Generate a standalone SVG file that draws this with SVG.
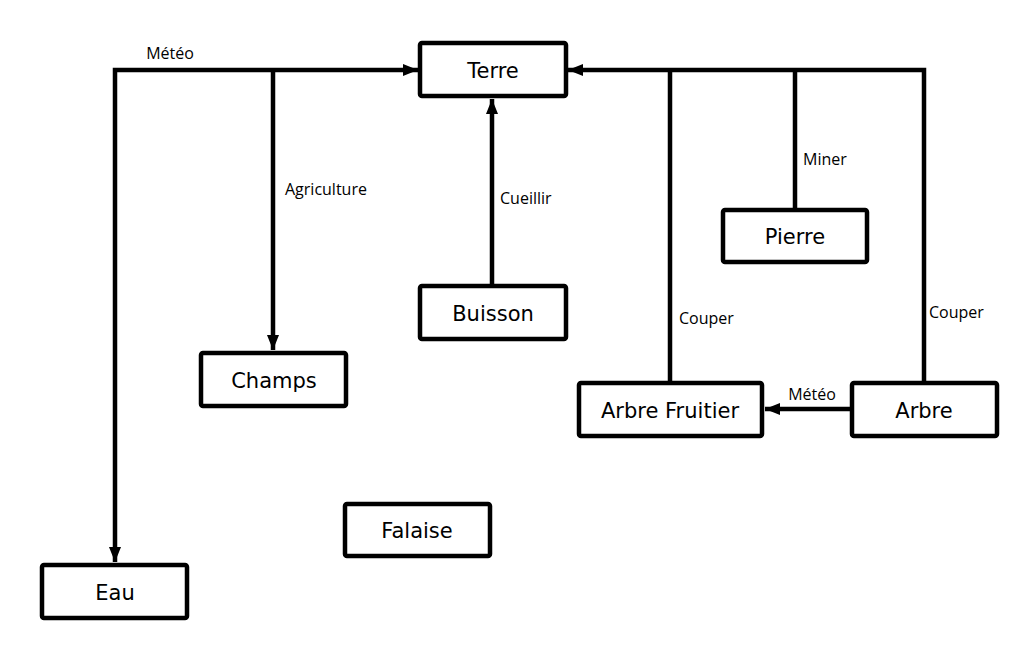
<svg xmlns="http://www.w3.org/2000/svg" width="1028" height="672" viewBox="0 0 1028 672">
<style>
.box{fill:#fff;stroke:#000;stroke-width:4.5}
.nt{font-family:"DejaVu Sans",sans-serif;font-size:21px;text-anchor:middle;dominant-baseline:central;fill:#000}
.lb{font-family:"Open Sans",sans-serif;font-size:16px;fill:#000}
.c{fill:none;stroke:#000;stroke-width:4.5}
</style>
<defs>
<marker id="ah" markerUnits="userSpaceOnUse" markerWidth="16" markerHeight="14" refX="15" refY="7" orient="auto">
<path d="M0,1 L15,7 L0,13 Z" fill="#000"/>
</marker>
</defs>
<rect width="1028" height="672" fill="#fff"/>
<g id="connectors">
<path class="c" d="M273,70 L418,70" marker-end="url(#ah)"/>
<path class="c" d="M273,70 L115,70 L115,562" marker-end="url(#ah)"/>
<path class="c" d="M273,70 L273,350" marker-end="url(#ah)"/>
<path class="c" d="M492,285 L492,99" marker-end="url(#ah)"/>
<path class="c" d="M924,382 L924,70 L568,70" marker-end="url(#ah)"/>
<path class="c" d="M670,382 L670,70"/>
<path class="c" d="M795,209 L795,70"/>
<path class="c" d="M852,409 L765,409" marker-end="url(#ah)"/>
<text class="lb" x="170" y="59" text-anchor="middle">Météo</text>
<text class="lb" x="285" y="195">Agriculture</text>
<text class="lb" x="500" y="204">Cueillir</text>
<text class="lb" x="803" y="165">Miner</text>
<text class="lb" x="679" y="324">Couper</text>
<text class="lb" x="929" y="318">Couper</text>
<text class="lb" x="812" y="400" text-anchor="middle">Météo</text>
</g>
<g id="terre"><rect class="box" x="420" y="43" width="146" height="53" rx="2"/><text class="nt" x="493" y="71">Terre</text></g>
<g id="buisson"><rect class="box" x="420" y="286" width="146" height="53" rx="2"/><text class="nt" x="493" y="314">Buisson</text></g>
<g id="champs"><rect class="box" x="201" y="353" width="145" height="53" rx="2"/><text class="nt" x="274" y="381">Champs</text></g>
<g id="pierre"><rect class="box" x="723" y="210" width="144" height="52" rx="2"/><text class="nt" x="795" y="237">Pierre</text></g>
<g id="arbre-fruitier"><rect class="box" x="579" y="383" width="183" height="53" rx="2"/><text class="nt" x="670" y="411">Arbre Fruitier</text></g>
<g id="arbre"><rect class="box" x="852" y="383" width="145" height="53" rx="2"/><text class="nt" x="924" y="411">Arbre</text></g>
<g id="falaise"><rect class="box" x="345" y="504" width="145" height="52" rx="2"/><text class="nt" x="417" y="531">Falaise</text></g>
<g id="eau"><rect class="box" x="42" y="565" width="145" height="53" rx="2"/><text class="nt" x="115" y="593">Eau</text></g>
</svg>
